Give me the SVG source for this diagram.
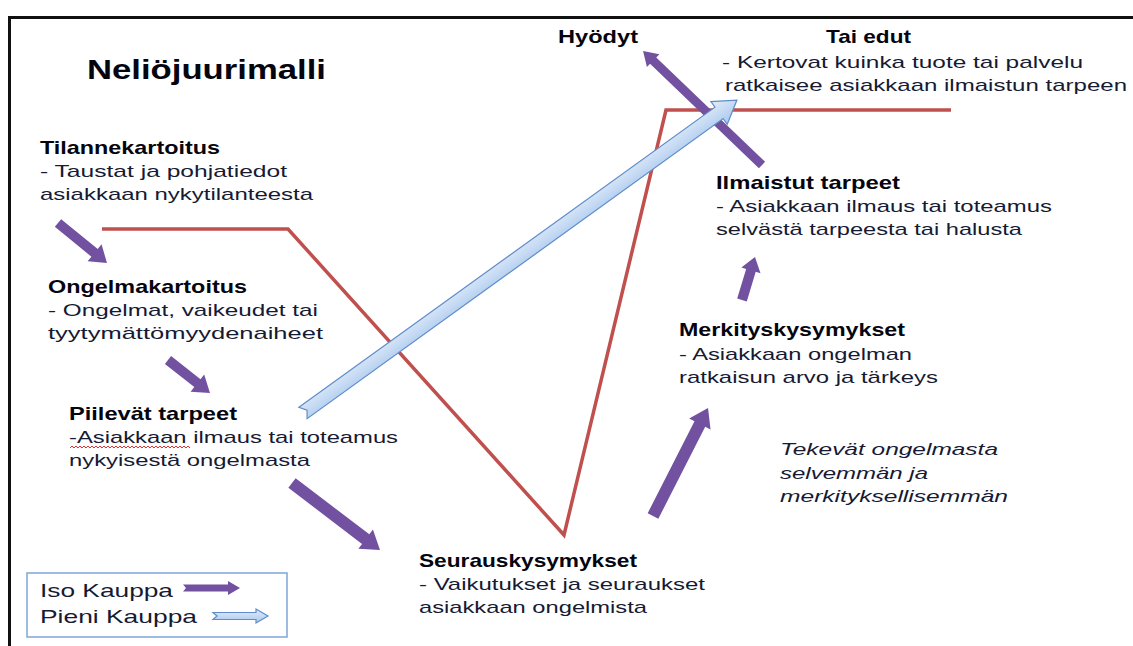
<svg xmlns="http://www.w3.org/2000/svg" width="1133" height="646" viewBox="0 0 1133 646">
<defs>
<linearGradient id="blueG" x1="0" y1="0" x2="0" y2="1">
<stop offset="0" stop-color="#e3edf9"/>
<stop offset="1" stop-color="#a9c8ee"/>
</linearGradient>
<style>
text{font-family:"Liberation Sans",Arial,sans-serif;fill:#161a33;font-size:17px}
.h{font-weight:bold;fill:#050510;font-size:19px}
.t{font-weight:bold;fill:#050510;font-size:28px}
.i{font-style:italic}
.lg{font-size:19px}
.purple{fill:#7251a0}
.blue{fill:url(#blueG);stroke:#5f8ccb;stroke-width:1.2}
.red{fill:none;stroke:#c0504d;stroke-width:3.5;stroke-linejoin:miter}
</style>
</defs>
<rect width="1133" height="646" fill="#fff"/>
<path d="M9.5 646 V17.5 H1133" fill="none" stroke="#111" stroke-width="3"/>

<g id="title"><text class="t" x="87" y="79" textLength="239" lengthAdjust="spacingAndGlyphs">Neliöjuurimalli</text></g>

<g id="connectors">
<path class="red" d="M102 229 H288 L564 535 L666 110 H951"/>
<path class="purple" transform="translate(58 223) rotate(39.2)" d="M0 -5 H47.2 V-11 L63.2 0 L47.2 11 V5 H0 Z"/>
<path class="purple" transform="translate(168 360) rotate(38.2)" d="M0 -5 H37.4 V-11 L53.4 0 L37.4 11 V5 H0 Z"/>
<path class="purple" transform="translate(292 483) rotate(37.3)" d="M0 -6 H92.6 V-12 L110.6 0 L92.6 12 V6 H0 Z"/>
<path class="purple" transform="translate(653 516) rotate(-63)" d="M0 -6 H103.2 V-12 L121.2 0 L103.2 12 V6 H0 Z"/>
<path class="purple" transform="translate(742 300) rotate(-73.2)" d="M0 -5 H30.9 V-10 L44.9 0 L30.9 10 V5 H0 Z"/>
<path class="purple" transform="translate(762 165) rotate(-136.2)" d="M0 -4.5 H150.8 V-9 L164.8 0 L150.8 9 V4.5 H0 Z"/>
<path class="blue" transform="translate(303 413) rotate(-35.8)" d="M0 -7 H513 V-14 L535 0 L513 14 V7 H0 L5 0 Z"/>
</g>

<g id="tilannekartoitus">
<text class="h" x="40" y="154" textLength="180" lengthAdjust="spacingAndGlyphs">Tilannekartoitus</text>
<text x="40" y="177" textLength="247" lengthAdjust="spacingAndGlyphs">- Taustat ja pohjatiedot</text>
<text x="40" y="200" textLength="273" lengthAdjust="spacingAndGlyphs">asiakkaan nykytilanteesta</text>
</g>

<g id="ongelmakartoitus">
<text class="h" x="48" y="293" textLength="199" lengthAdjust="spacingAndGlyphs">Ongelmakartoitus</text>
<text x="48" y="316" textLength="270" lengthAdjust="spacingAndGlyphs">- Ongelmat, vaikeudet tai</text>
<text x="48" y="339" textLength="275" lengthAdjust="spacingAndGlyphs">tyytymättömyydenaiheet</text>
</g>

<g id="piilevat">
<text class="h" x="69" y="420" textLength="168" lengthAdjust="spacingAndGlyphs">Piilevät tarpeet</text>
<text x="69" y="443" textLength="329" lengthAdjust="spacingAndGlyphs">-Asiakkaan ilmaus tai toteamus</text>
<text x="69" y="466" textLength="241" lengthAdjust="spacingAndGlyphs">nykyisestä ongelmasta</text>
<path d="M70 448 l2 -2 l2 2 l2 -2 l2 2 l2 -2 l2 2 l2 -2 l2 2 l2 -2 l2 2 l2 -2 l2 2 l2 -2 l2 2 l2 -2 l2 2 l2 -2 l2 2 l2 -2 l2 2 l2 -2 l2 2 l2 -2 l2 2 l2 -2 l2 2 l2 -2 l2 2 l2 -2 l2 2 l2 -2 l2 2 l2 -2 l2 2 l2 -2 l2 2 l2 -2 l2 2 l2 -2 l2 2 l2 -2 l2 2 l2 -2 l2 2 l2 -2 l2 2 l2 -2 l2 2 l2 -2 l2 2 l2 -2 l2 2 l2 -2 l2 2 l2 -2 l2 2 l2 -2 l2 2 l2 -2 l2 2" fill="none" stroke="#e03030" stroke-width="1"/>
</g>

<g id="seurauskysymykset">
<text class="h" x="419" y="567" textLength="218" lengthAdjust="spacingAndGlyphs">Seurauskysymykset</text>
<text x="419" y="590" textLength="286" lengthAdjust="spacingAndGlyphs">- Vaikutukset ja seuraukset</text>
<text x="419" y="613" textLength="228" lengthAdjust="spacingAndGlyphs">asiakkaan ongelmista</text>
</g>

<g id="merkityskysymykset">
<text class="h" x="679" y="336" textLength="226" lengthAdjust="spacingAndGlyphs">Merkityskysymykset</text>
<text x="679" y="360" textLength="233" lengthAdjust="spacingAndGlyphs">- Asiakkaan ongelman</text>
<text x="679" y="383" textLength="259" lengthAdjust="spacingAndGlyphs">ratkaisun arvo ja tärkeys</text>
</g>

<g id="note">
<text class="i" x="780" y="455" textLength="218" lengthAdjust="spacingAndGlyphs">Tekevät ongelmasta</text>
<text class="i" x="780" y="479" textLength="148" lengthAdjust="spacingAndGlyphs">selvemmän ja</text>
<text class="i" x="780" y="502" textLength="228" lengthAdjust="spacingAndGlyphs">merkityksellisemmän</text>
</g>

<g id="ilmaistut">
<text class="h" x="716" y="189" textLength="184" lengthAdjust="spacingAndGlyphs">Ilmaistut tarpeet</text>
<text x="716" y="212" textLength="336" lengthAdjust="spacingAndGlyphs">- Asiakkaan ilmaus tai toteamus</text>
<text x="716" y="235" textLength="306" lengthAdjust="spacingAndGlyphs">selvästä tarpeesta tai halusta</text>
</g>

<g id="hyodyt">
<text class="h" x="558" y="43" textLength="80" lengthAdjust="spacingAndGlyphs">Hyödyt</text>
<text class="h" x="826" y="43" textLength="85" lengthAdjust="spacingAndGlyphs">Tai edut</text>
<text x="722" y="68" textLength="361" lengthAdjust="spacingAndGlyphs">- Kertovat kuinka tuote tai palvelu</text>
<text x="725" y="91" textLength="402" lengthAdjust="spacingAndGlyphs">ratkaisee asiakkaan ilmaistun tarpeen</text>
</g>

<g id="legend">
<rect x="27" y="573" width="260" height="64" fill="#fff" stroke="#7ea6d8" stroke-width="1.5"/>
<text class="lg" x="40" y="597" textLength="133" lengthAdjust="spacingAndGlyphs">Iso Kauppa</text>
<text class="lg" x="40" y="623" textLength="157" lengthAdjust="spacingAndGlyphs">Pieni Kauppa</text>
<path class="purple" d="M183 584.5 H228 V581 L240 588 L228 595 V591.5 H183 L186 588 Z"/>
<path class="blue" d="M213 612.5 H256 V609 L268 616 L256 623 V619.5 H213 L217 616 Z"/>
</g>
</svg>
